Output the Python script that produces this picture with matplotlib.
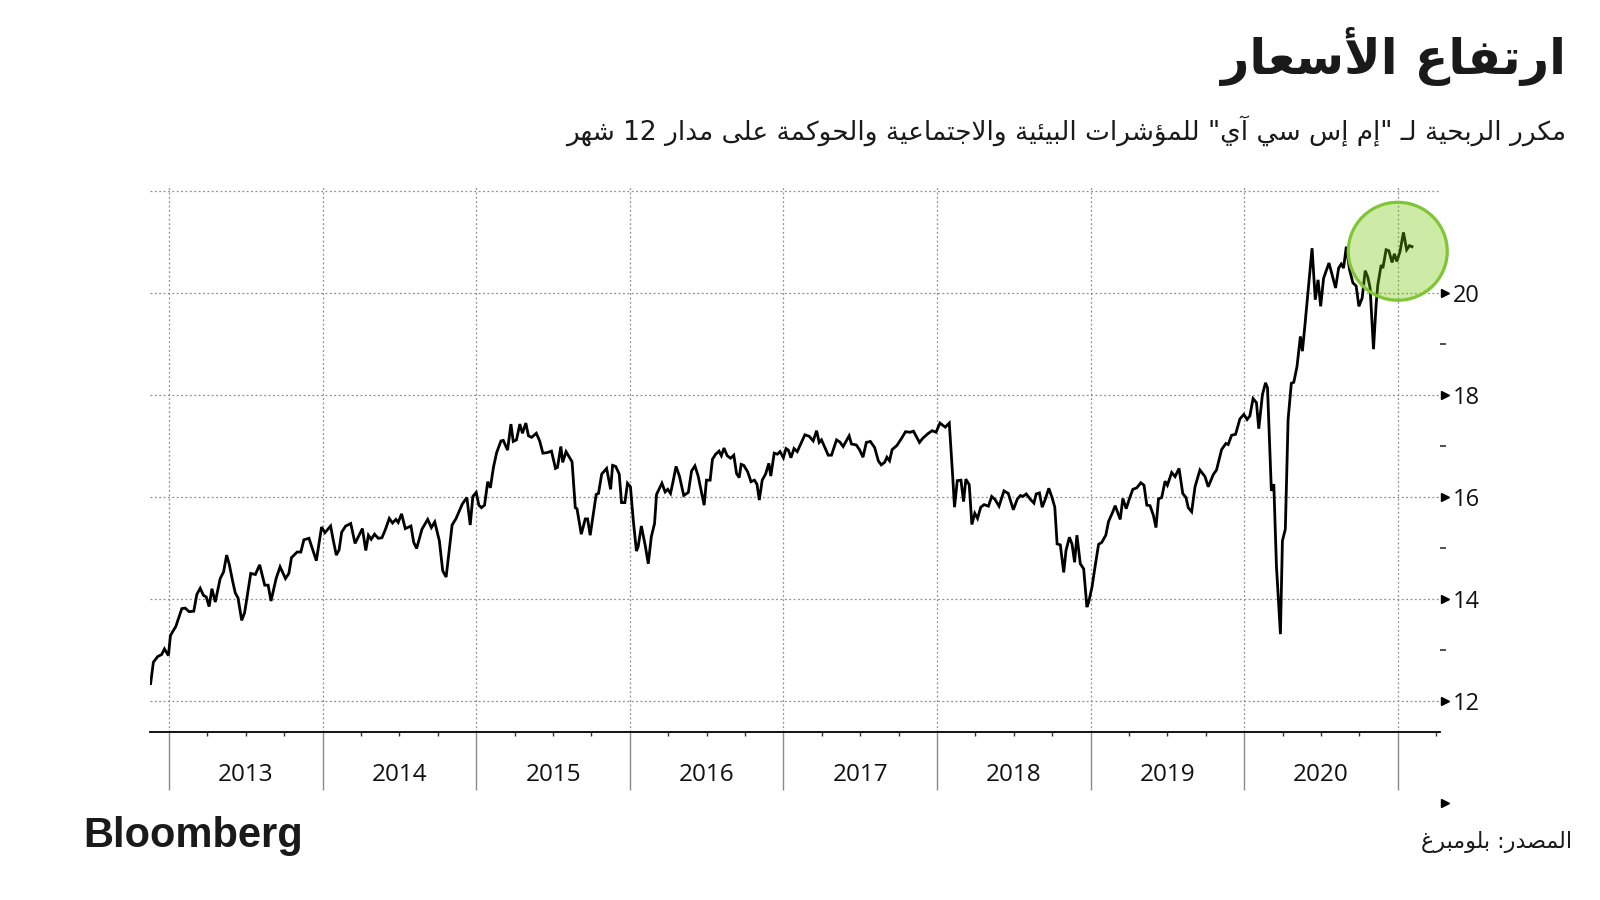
# MSCI ESG index 12m P/E chart, arabic bloomberg style
import re
import numpy as np
import matplotlib
matplotlib.use("Agg")
import matplotlib.pyplot as plt
import matplotlib.transforms as mtransforms
from matplotlib.patches import Ellipse

# --- data (decimal year, P/E) ---
years = [
    2012.880, 2012.898, 2012.926, 2012.952, 2012.970, 2012.996,
    2013.009, 2013.022, 2013.044, 2013.083, 2013.105, 2013.131, 2013.161, 2013.181,
    2013.203, 2013.224, 2013.242, 2013.261, 2013.279, 2013.301, 2013.333, 2013.355,
    2013.375, 2013.392, 2013.414, 2013.431, 2013.449, 2013.473, 2013.492, 2013.532,
    2013.562, 2013.590, 2013.623, 2013.645, 2013.664, 2013.697, 2013.723, 2013.758,
    2013.780, 2013.797, 2013.834, 2013.858, 2013.878, 2013.911, 2013.959, 2013.993,
    2014.015, 2014.052, 2014.068, 2014.089, 2014.107, 2014.124, 2014.150, 2014.183,
    2014.211, 2014.259, 2014.281, 2014.298, 2014.316, 2014.338, 2014.362, 2014.386,
    2014.407, 2014.434, 2014.455, 2014.477, 2014.492, 2014.514, 2014.538, 2014.575,
    2014.593, 2014.612, 2014.647, 2014.684, 2014.708, 2014.730, 2014.760, 2014.782,
    2014.804, 2014.843, 2014.869, 2014.909, 2014.939, 2014.961, 2014.978,
    2015.000, 2015.017, 2015.034, 2015.054, 2015.075, 2015.092, 2015.112, 2015.133,
    2015.161, 2015.176, 2015.204, 2015.226, 2015.241, 2015.262, 2015.284, 2015.301,
    2015.323, 2015.340, 2015.361, 2015.391, 2015.413, 2015.434, 2015.462, 2015.490,
    2015.516, 2015.529, 2015.551, 2015.563, 2015.585, 2015.624, 2015.645, 2015.656,
    2015.684, 2015.710, 2015.725, 2015.742, 2015.781, 2015.796, 2015.817, 2015.849,
    2015.875, 2015.888, 2015.908, 2015.931, 2015.946, 2015.968, 2015.985,
    2016.004, 2016.022, 2016.043, 2016.054, 2016.075, 2016.101, 2016.120, 2016.140,
    2016.161, 2016.174, 2016.209, 2016.230, 2016.247, 2016.265, 2016.280, 2016.301,
    2016.323, 2016.351, 2016.381, 2016.402, 2016.424, 2016.445, 2016.484, 2016.499,
    2016.523, 2016.538, 2016.559, 2016.581, 2016.596, 2016.613, 2016.634, 2016.656,
    2016.677, 2016.695, 2016.712, 2016.725, 2016.742, 2016.768, 2016.789, 2016.811,
    2016.828, 2016.843, 2016.862, 2016.884, 2016.905, 2016.918, 2016.940, 2016.961,
    2016.978,
    2017.000, 2017.017, 2017.032, 2017.049, 2017.069, 2017.090, 2017.140, 2017.168,
    2017.194, 2017.216, 2017.233, 2017.248, 2017.270, 2017.292, 2017.313, 2017.346,
    2017.367, 2017.389, 2017.428, 2017.443, 2017.475, 2017.497, 2017.518, 2017.540,
    2017.566, 2017.594, 2017.618, 2017.637, 2017.659, 2017.674, 2017.691, 2017.708,
    2017.739, 2017.767, 2017.795, 2017.825, 2017.847, 2017.886, 2017.907, 2017.940,
    2017.968, 2017.994,
    2018.019, 2018.054, 2018.080, 2018.102, 2018.114, 2018.132, 2018.156, 2018.173,
    2018.188, 2018.210, 2018.227, 2018.246, 2018.264, 2018.285, 2018.307, 2018.335,
    2018.356, 2018.378, 2018.404, 2018.436, 2018.464, 2018.497, 2018.523, 2018.544,
    2018.559, 2018.581, 2018.609, 2018.631, 2018.646, 2018.667, 2018.685, 2018.702,
    2018.728, 2018.749, 2018.767, 2018.782, 2018.803, 2018.825, 2018.840, 2018.862,
    2018.879, 2018.896, 2018.911, 2018.933, 2018.955, 2018.976, 2018.987,
    2019.009, 2019.030, 2019.052, 2019.073, 2019.099, 2019.117, 2019.145, 2019.160,
    2019.193, 2019.210, 2019.232, 2019.253, 2019.275, 2019.301, 2019.327, 2019.348,
    2019.366, 2019.387, 2019.409, 2019.426, 2019.442, 2019.463, 2019.485, 2019.500,
    2019.528, 2019.550, 2019.576, 2019.600, 2019.621, 2019.636, 2019.658, 2019.680,
    2019.712, 2019.745, 2019.766, 2019.799, 2019.820, 2019.853, 2019.881, 2019.896,
    2019.918, 2019.944, 2019.972, 2019.998,
    2020.019, 2020.037, 2020.058, 2020.080, 2020.095, 2020.119, 2020.139, 2020.152,
    2020.177, 2020.193, 2020.210, 2020.236, 2020.249, 2020.268, 2020.286, 2020.307,
    2020.323, 2020.344, 2020.366, 2020.379, 2020.394, 2020.416, 2020.442, 2020.463,
    2020.481, 2020.498, 2020.517, 2020.552, 2020.569, 2020.595, 2020.615, 2020.632,
    2020.647, 2020.665, 2020.686, 2020.708, 2020.729, 2020.747, 2020.768, 2020.788,
    2020.805, 2020.820, 2020.842, 2020.859, 2020.870, 2020.892, 2020.903, 2020.924,
    2020.942, 2020.963, 2020.978, 2020.994, 2021.015, 2021.037, 2021.058, 2021.076,
    2021.093,
]
pe_ratio = [
    12.34, 12.76, 12.87, 12.91, 13.02, 12.89,
    13.28, 13.35, 13.46, 13.81, 13.82, 13.75, 13.76, 14.09,
    14.21, 14.07, 14.04, 13.85, 14.20, 13.94, 14.40, 14.53,
    14.86, 14.68, 14.35, 14.12, 14.02, 13.58, 13.73, 14.50,
    14.48, 14.67, 14.27, 14.27, 13.96, 14.40, 14.63, 14.40,
    14.50, 14.81, 14.92, 14.92, 15.16, 15.19, 14.75, 15.41,
    15.30, 15.43, 15.17, 14.86, 14.96, 15.31, 15.43, 15.48,
    15.09, 15.38, 14.95, 15.25, 15.17, 15.27, 15.19, 15.20,
    15.35, 15.58, 15.49, 15.56, 15.50, 15.67, 15.38, 15.43,
    15.11, 14.99, 15.37, 15.56, 15.40, 15.51, 15.14, 14.55,
    14.43, 15.45, 15.58, 15.86, 15.99, 15.45, 16.01,
    16.09, 15.84, 15.79, 15.84, 16.30, 16.18, 16.58, 16.87,
    17.10, 17.11, 16.92, 17.43, 17.09, 17.12, 17.43, 17.25,
    17.45, 17.20, 17.17, 17.25, 17.10, 16.86, 16.87, 16.90,
    16.56, 16.58, 16.99, 16.68, 16.89, 16.69, 15.79, 15.77,
    15.27, 15.57, 15.57, 15.25, 16.05, 16.07, 16.45, 16.56,
    16.15, 16.62, 16.60, 16.45, 15.89, 15.89, 16.27,
    16.20, 15.56, 14.94, 15.02, 15.43, 15.04, 14.69, 15.22,
    15.48, 16.05, 16.27, 16.10, 16.15, 16.07, 16.28, 16.60,
    16.41, 16.03, 16.09, 16.51, 16.61, 16.41, 15.84, 16.33,
    16.33, 16.74, 16.84, 16.90, 16.81, 16.96, 16.81, 16.76,
    16.82, 16.46, 16.38, 16.64, 16.62, 16.49, 16.30, 16.33,
    16.25, 15.94, 16.33, 16.45, 16.66, 16.41, 16.86, 16.84,
    16.89,
    16.77, 16.95, 16.92, 16.77, 16.95, 16.89, 17.22, 17.19,
    17.10, 17.30, 17.07, 17.12, 16.97, 16.82, 16.82, 17.12,
    17.08, 16.99, 17.20, 17.04, 17.02, 16.92, 16.78, 17.07,
    17.09, 16.97, 16.71, 16.63, 16.68, 16.78, 16.71, 16.93,
    17.01, 17.14, 17.28, 17.27, 17.29, 17.07, 17.15, 17.24,
    17.30, 17.27,
    17.45, 17.37, 17.45, 16.42, 15.80, 16.32, 16.33, 15.91,
    16.35, 16.24, 15.46, 15.68, 15.58, 15.80, 15.85, 15.82,
    16.01, 15.95, 15.82, 16.12, 16.07, 15.75, 15.96, 16.03,
    16.01, 16.06, 15.95, 15.88, 16.06, 16.08, 15.80, 15.93,
    16.17, 15.99, 15.80, 15.08, 15.06, 14.52, 14.95, 15.21,
    15.08, 14.72, 15.25, 14.69, 14.59, 13.84, 13.93,
    14.23, 14.65, 15.07, 15.11, 15.25, 15.52, 15.71, 15.83,
    15.56, 15.97, 15.77, 15.97, 16.15, 16.18, 16.28, 16.23,
    15.84, 15.83, 15.64, 15.40, 15.96, 15.99, 16.31, 16.23,
    16.48, 16.40, 16.56, 16.07, 15.99, 15.79, 15.71, 16.20,
    16.53, 16.40, 16.20, 16.44, 16.53, 16.93, 17.05, 17.03,
    17.21, 17.23, 17.53, 17.62,
    17.52, 17.59, 17.93, 17.85, 17.34, 18.01, 18.24, 18.14,
    16.12, 16.25, 14.65, 13.31, 15.14, 15.37, 17.52, 18.23,
    18.25, 18.56, 19.15, 18.86, 19.32, 20.03, 20.88, 19.87,
    20.26, 19.74, 20.29, 20.59, 20.40, 20.10, 20.49, 20.57,
    20.49, 20.91, 20.46, 20.20, 20.14, 19.74, 19.90, 20.44,
    20.31, 20.10, 18.90, 19.77, 20.16, 20.55, 20.49, 20.85,
    20.83, 20.60, 20.77, 20.62, 20.82, 21.19, 20.85, 20.93,
    20.91,
]

year_labels = ["2013", "2014", "2015", "2016", "2017", "2018", "2019", "2020"]
y_major = [12, 14, 16, 18, 20, 22]
y_labels = ["12", "14", "16", "18", "20", ""]
y_arrows = [10, 12, 14, 16, 18, 20]
y_dashes = [13, 15, 17, 19]

title = "ارتفاع الأسعار"
subtitle = 'مكرر الربحية لـ "إم إس سي آي" للمؤشرات البيئية والاجتماعية والحوكمة على مدار 12 شهر'
source = "المصدر: بلومبرغ"

# --- tiny arabic shaper: matplotlib has no text shaping / bidi ---
# letter -> (isolated presentation form, number of forms)
AR_FORMS = {
    '\u0622': (0xFE81, 2), '\u0623': (0xFE83, 2), '\u0624': (0xFE85, 2),
    '\u0625': (0xFE87, 2), '\u0626': (0xFE89, 4), '\u0627': (0xFE8D, 2),
    '\u0628': (0xFE8F, 4), '\u0629': (0xFE93, 2), '\u062A': (0xFE95, 4),
    '\u062B': (0xFE99, 4), '\u062C': (0xFE9D, 4), '\u062D': (0xFEA1, 4),
    '\u062E': (0xFEA5, 4), '\u062F': (0xFEA9, 2), '\u0630': (0xFEAB, 2),
    '\u0631': (0xFEAD, 2), '\u0632': (0xFEAF, 2), '\u0633': (0xFEB1, 4),
    '\u0634': (0xFEB5, 4), '\u0635': (0xFEB9, 4), '\u0636': (0xFEBD, 4),
    '\u0637': (0xFEC1, 4), '\u0638': (0xFEC5, 4), '\u0639': (0xFEC9, 4),
    '\u063A': (0xFECD, 4), '\u0641': (0xFED1, 4), '\u0642': (0xFED5, 4),
    '\u0643': (0xFED9, 4), '\u0644': (0xFEDD, 4), '\u0645': (0xFEE1, 4),
    '\u0646': (0xFEE5, 4), '\u0647': (0xFEE9, 4), '\u0648': (0xFEED, 2),
    '\u0649': (0xFEEF, 2), '\u064A': (0xFEF1, 4),
}
LAM_ALEF = {'\u0622': 0xFEF5, '\u0623': 0xFEF7, '\u0625': 0xFEF9, '\u0627': 0xFEFB}
TATWEEL = '\u0640'


def joins_forward(ch):
    return ch == TATWEEL or (ch in AR_FORMS and AR_FORMS[ch][1] == 4)


def joins_back(ch):
    return ch == TATWEEL or ch in AR_FORMS


def shape_ar(text):
    out = []
    i, n = 0, len(text)
    while i < n:
        ch = text[i]
        prev = text[i - 1] if i > 0 else ''
        nxt = text[i + 1] if i + 1 < n else ''
        if ch not in AR_FORMS:
            out.append(ch)
            i += 1
            continue
        p = joins_forward(prev)
        if ch == '\u0644' and nxt in LAM_ALEF:
            out.append(chr(LAM_ALEF[nxt] + (1 if p else 0)))
            i += 2
            continue
        base, nf = AR_FORMS[ch]
        nx = nf == 4 and joins_back(nxt)
        off = 3 if (p and nx) else 1 if p else 2 if nx else 0
        out.append(chr(base + off))
        i += 1
    vis = ''.join(out)[::-1]
    # numbers keep left-to-right order
    return re.sub(r'[0-9]+', lambda m: m.group(0)[::-1], vis)


# --- figure ---
W, H = 1600, 900
fig = plt.figure(figsize=(16, 9), dpi=100)
fig.patch.set_facecolor("white")
ax = fig.add_axes([150 / W, 1 - 732 / H, 1290 / W, (732 - 185) / H])

ax.plot(years, pe_ratio, color="black", lw=2.0, zorder=3, solid_joinstyle="miter")

ax.set_xlim(2012.876, 2021.275)
ax.set_ylim(11.39, 22.12)

for s in ["top", "left", "right"]:
    ax.spines[s].set_visible(False)
ax.spines["bottom"].set_color("black")
ax.spines["bottom"].set_linewidth(1.3)

# x axis: year boundaries + quarter ticks
ax.set_xticks(np.arange(2013, 2022))
ax.set_xticklabels([])
qt = [y + q for y in range(2013, 2022) for q in (0.25, 0.5, 0.75) if y + q < 2021.3]
ax.set_xticks(qt, minor=True)
ax.tick_params(axis="x", which="major", length=42, width=1.0, color="#8a8a8a", direction="out")
ax.tick_params(axis="x", which="minor", length=3, width=1.0, color="#333333", direction="out")

tr_x = mtransforms.blended_transform_factory(ax.transData, ax.transAxes)
for k, lab in enumerate(year_labels):
    ax.text(2013 + k + 0.5, -0.0786, lab, transform=tr_x, ha="center", va="center",
            fontsize=17.5, family="Open Sans", color="#111111")

# y axis on the right
ax.yaxis.tick_right()
ax.set_yticks(y_major)
ax.set_yticklabels(y_labels, family="Open Sans", fontsize=17, color="#111111")
ax.tick_params(axis="y", which="major", length=0, pad=9)

tr_y = mtransforms.blended_transform_factory(ax.transAxes, ax.transData)
ax.plot([1.0042] * len(y_arrows), y_arrows, transform=tr_y, ls="none", marker=">",
        ms=6, color="black", clip_on=False)
ax.plot([1.0025] * len(y_dashes), y_dashes, transform=tr_y, ls="none", marker="_",
        ms=4, mew=1.2, color="#333333", clip_on=False)

ax.grid(True, which="major", color="#8f8f8f", lw=0.9, ls=(0, (1.5, 2.0)))
ax.set_axisbelow(True)

# highlight circle (round in pixels)
circ = Ellipse((2021.0, 20.82), width=99 / 153.6, height=98 / 51.0,
               facecolor=(0.44, 0.765, 0.0, 0.35), edgecolor="#80c535", lw=2.3,
               zorder=4, clip_on=False)
ax.add_patch(circ)

# --- texts ---
fig.text(1566 / W, 1 - 57 / H, shape_ar(title), ha="right", va="center",
         fontsize=35.5, fontweight="bold", family="DejaVu Sans", color="#1a1a1a")
fig.text(1566 / W, 1 - 131 / H, shape_ar(subtitle), ha="right", va="center",
         fontsize=19, family="DejaVu Sans", color="#1a1a1a")
fig.text(1572 / W, 1 - 842 / H, shape_ar(source), ha="right", va="center",
         fontsize=16, family="DejaVu Sans", color="#1a1a1a")
fig.text(83 / W, 1 - 847 / H, "Bloomberg", ha="left", va="baseline",
         fontsize=30, fontweight="bold", family="Liberation Sans", color="#1a1a1a")

fig.savefig("out.png", dpi=100, facecolor="white")
